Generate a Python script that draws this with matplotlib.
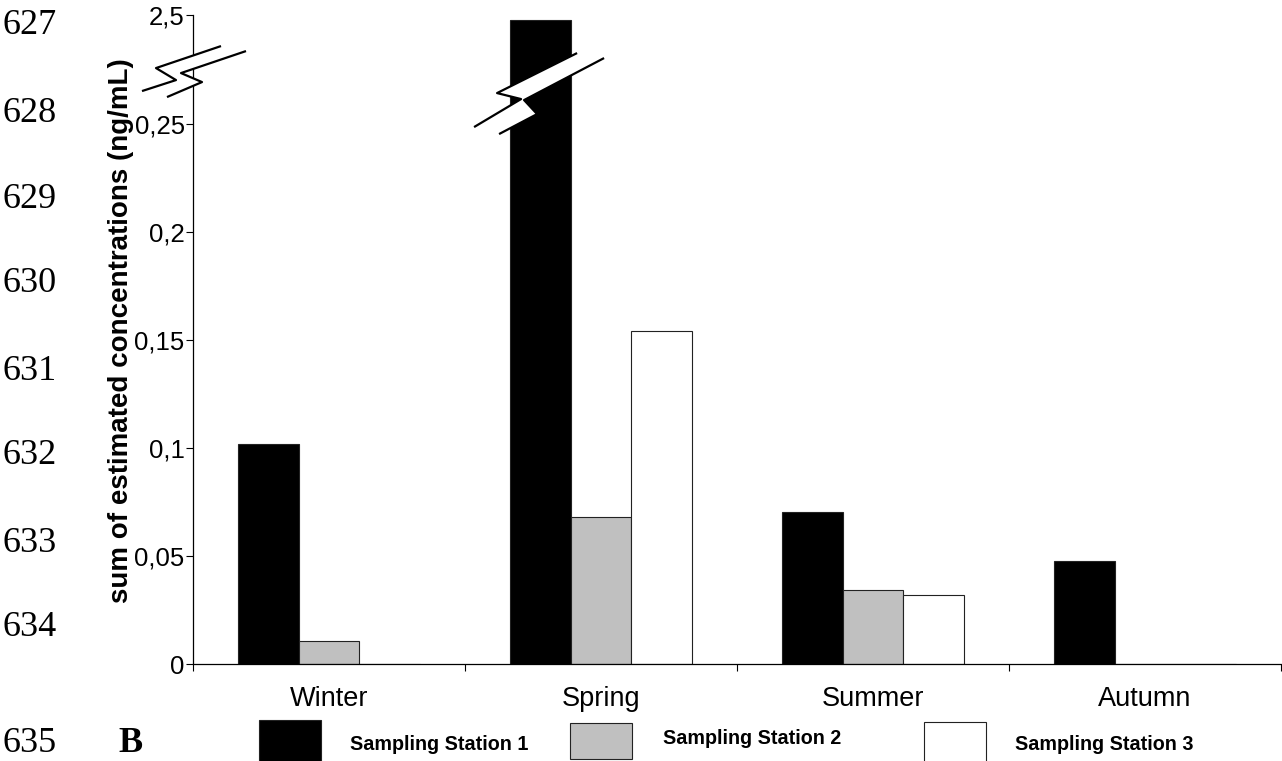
import numpy as np
import matplotlib
matplotlib.use("Agg")
import matplotlib.pyplot as plt
from matplotlib.patches import Polygon, Rectangle
from matplotlib.transforms import Affine2D, ScaledTranslation

# data
seasons = ["Winter", "Spring", "Summer", "Autumn"]
station_1 = [0.102, 2.4, 0.0704, 0.0477]
station_2 = [0.0106, 0.068, 0.0343, 0.0]
station_3 = [0.0, 0.154, 0.032, 0.0]
station_names = ["Sampling Station 1", "Sampling Station 2", "Sampling Station 3"]
station_colors = ["#000000", "#c0c0c0", "#ffffff"]
y_ticks = [0, 0.05, 0.1, 0.15, 0.2, 0.25, 2.5]
line_numbers = ["627", "628", "629", "630", "631", "632", "633", "634", "635"]

W, H = 1282, 761
BREAK_AT = 0.25
Y_TOP = 2.5
SQUEEZE = 0.0505 / (Y_TOP - BREAK_AT)   # upper segment is compressed


def forward(y):
    y = np.asarray(y, dtype=float)
    return np.where(y <= BREAK_AT, y, BREAK_AT + (y - BREAK_AT) * SQUEEZE)


def inverse(u):
    u = np.asarray(u, dtype=float)
    return np.where(u <= BREAK_AT, u, BREAK_AT + (u - BREAK_AT) / SQUEEZE)


def fx(px):
    return px / W


def fy(py):
    return 1 - py / H


plt.rcParams["font.family"] = ["Liberation Sans", "DejaVu Sans"]

fig = plt.figure(figsize=(W / 100, H / 100), dpi=100)
ax = fig.add_axes([fx(193), fy(664), fx(1281) - fx(193), fy(15) - fy(664)])
ax.set_yscale("function", functions=(forward, inverse))

x = np.arange(len(seasons)) + 0.5
width = 0.224
for k, (vals, color) in enumerate(zip([station_1, station_2, station_3], station_colors)):
    ax.bar(x + (k - 1) * width, vals, width, color=color, edgecolor="#222222",
           linewidth=0.8, zorder=2)

ax.set_xlim(0, len(seasons))
ax.set_ylim(0, Y_TOP)
ax.set_yticks(y_ticks)
ax.set_yticklabels([f"{v:g}".replace(".", ",") for v in y_ticks])
ax.yaxis.set_minor_locator(plt.NullLocator())
ax.tick_params(axis="y", direction="out", length=5, width=0.8, pad=1, labelsize=18.5)

ax.set_xticks(np.arange(len(seasons) + 1))
ax.set_xticklabels([])
ax.set_xticks(x, minor=True)
ax.set_xticklabels(seasons, minor=True)
ax.tick_params(axis="x", which="major", direction="out", length=5, width=0.8)
ax.tick_params(axis="x", which="minor", length=0, pad=16, labelsize=19.5)

for side in ["top", "right"]:
    ax.spines[side].set_visible(False)
for side in ["left", "bottom"]:
    ax.spines[side].set_linewidth(0.9)

ax.set_ylabel("sum of estimated concentrations (ng/mL)", fontsize=20,
              fontweight="bold", va="center")
ax.yaxis.set_label_coords((121 - 193) / 1088, (664 - 331) / 649)


def draw_break(x0, y0, upper, lower):
    # zigzag break mark, offsets in pixels from a data anchor
    trans = Affine2D() + ScaledTranslation(x0, y0, ax.transData)
    band = Polygon(upper + lower[::-1], closed=True, facecolor="white",
                   edgecolor="none", transform=trans, clip_on=False, zorder=5)
    ax.add_patch(band)
    for path in (upper, lower):
        xs, ys = zip(*path)
        ax.plot(xs, ys, color="black", lw=1.6, transform=trans,
                clip_on=False, zorder=6, solid_capstyle="butt")


draw_break(0, BREAK_AT,
           [(28, 78), (-37, 56), (-17, 44), (-51, 33)],
           [(53, 73), (-12, 51), (9, 42), (-26, 27)])
draw_break(x[1] - width, BREAK_AT,
           [(37, 71), (-43, 31), (-19, 25), (-66, -3)],
           [(64, 66), (-16, 24), (-3, 10), (-41, -10)])

# legend drawn by hand below the axis (cut by the page edge)
box_left = [259, 570, 924]
box_top = [720, 723, 722]
box_bottom = [775, 759, 775]
text_left = [350, 663, 1015]
text_y = [745, 739, 744]
for k in range(3):
    fig.patches.append(Rectangle((fx(box_left[k]), fy(box_bottom[k])),
                                 fx(62), fy(box_top[k]) - fy(box_bottom[k]),
                                 facecolor=station_colors[k], edgecolor="#222222",
                                 linewidth=0.8, transform=fig.transFigure))
    fig.text(fx(text_left[k]), fy(text_y[k]), station_names[k], fontsize=14.2,
             fontweight="bold", ha="left", va="center")

# manuscript line numbers and panel letter
line_y = [25, 113, 199, 284, 371, 456, 543, 628, 744]
for label, py in zip(line_numbers, line_y):
    fig.text(fx(3), fy(py), label, fontsize=26, family="Liberation Serif",
             ha="left", va="center")
fig.text(fx(118), fy(744), "B", fontsize=26, family="Liberation Serif",
         fontweight="bold", ha="left", va="center")

fig.savefig("out.png", dpi=100)
